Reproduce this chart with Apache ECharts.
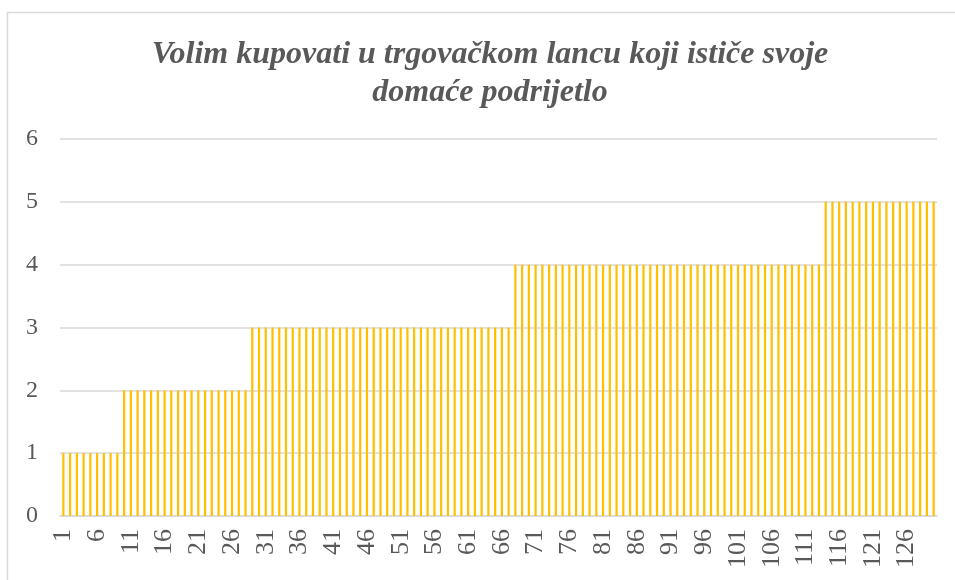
<!DOCTYPE html>
<html>
<head>
<meta charset="utf-8">
<script src="https://cdn.jsdelivr.net/npm/echarts@6/dist/echarts.min.js"></script>
<style>
html,body{margin:0;padding:0;background:#fff;}
#chart{width:955px;height:580px;}
</style>
</head>
<body>
<div id="chart"></div>
<script>
// Data (130 respondents, sorted answers)
var titleText = 'Volim kupovati u trgovačkom lancu koji ističe svoje\ndomaće podrijetlo';
var answerLevels = [1, 2, 3, 4, 5];
var levelCounts = [9, 19, 39, 46, 17];
var yTicks = [0, 1, 2, 3, 4, 5, 6];

var categories = [];
var values = [];
(function () {
  var n = 0;
  for (var i = 0; i < answerLevels.length; i++) {
    for (var j = 0; j < levelCounts[i]; j++) {
      n++;
      categories.push(String(n));
      values.push(answerLevels[i]);
    }
  }
})();

var chart = echarts.init(document.getElementById('chart'), null, {renderer: 'canvas'});
chart.setOption({
  animation: false,
  backgroundColor: '#ffffff',
  graphic: [{
    type: 'rect',
    shape: {x: 7.5, y: 12.5, width: 1000, height: 700},
    style: {fill: 'none', stroke: '#d9d9d9', lineWidth: 1.5},
    silent: true,
    z: -10
  }],
  title: {
    text: titleText,
    left: 490,
    top: 36,
    textAlign: 'center',
    padding: 0,
    textStyle: {
      fontFamily: '"Liberation Serif", "Times New Roman", serif',
      fontStyle: 'italic',
      fontWeight: 'bold',
      fontSize: 32,
      color: '#595959',
      lineHeight: 38
    }
  },
  grid: {left: 60, right: 18, top: 139, bottom: 64, containLabel: false},
  xAxis: {
    type: 'category',
    data: categories,
    axisLine: {show: true, lineStyle: {color: '#d9d9d9', width: 1.5}},
    axisTick: {show: false},
    axisLabel: {
      interval: 4,
      rotate: 90,
      margin: 13,
      fontFamily: '"Liberation Serif", "Times New Roman", serif',
      fontSize: 26,
      color: '#595959'
    }
  },
  yAxis: {
    type: 'value',
    min: 0,
    max: 6,
    interval: 1,
    axisLine: {show: false},
    axisTick: {show: false},
    splitLine: {lineStyle: {color: '#d9d9d9', width: 1.5}},
    axisLabel: {
      margin: 22,
      fontFamily: '"Liberation Serif", "Times New Roman", serif',
      fontSize: 24,
      color: '#595959',
      formatter: function (v) { return yTicks.indexOf(v) >= 0 ? String(v) : ''; }
    }
  },
  series: [{
    type: 'bar',
    data: values,
    barCategoryGap: '67%',
    itemStyle: {color: '#FFC000'}
  }]
});
</script>
</body>
</html>
